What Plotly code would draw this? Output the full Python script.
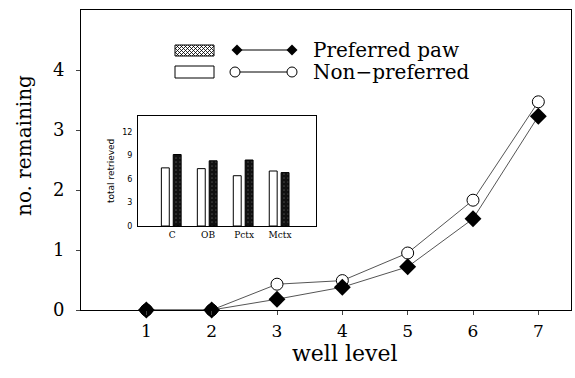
import plotly.graph_objects as go

# main chart data
well_levels = [1, 2, 3, 4, 5, 6, 7]
preferred = [0, 0, 0.18, 0.38, 0.72, 1.52, 3.23]
non_preferred = [0, 0, 0.43, 0.49, 0.95, 1.83, 3.47]

# inset data
groups = ["C", "OB", "Pctx", "Mctx"]
inset_non_pref = [7.4, 7.3, 6.4, 7.0]
inset_pref = [9.1, 8.3, 8.4, 6.8]

y_ticks = [0, 1, 2, 3, 4]
inset_ticks = [0, 3, 6, 9, 12]

SERIF = "DejaVu Serif, Liberation Serif, serif"
W, H = 575, 378
L, R, T, B = 81, 4, 10, 68
PW, PH = W - L - R, H - T - B


def px(x):
    return (x - L) / PW


def py(y):
    return (H - B - y) / PH


fig = go.Figure()

fig.add_trace(go.Scatter(
    x=well_levels, y=non_preferred, mode="lines+markers",
    line=dict(color="#555", width=1),
    marker=dict(symbol="circle", size=12,
                color=["black", "black", "white", "white", "white", "white", "white"],
                line=dict(color="black", width=1)),
    showlegend=False, cliponaxis=False))
fig.add_trace(go.Scatter(
    x=well_levels, y=preferred, mode="lines+markers",
    line=dict(color="#555", width=1),
    marker=dict(symbol="diamond", size=13, color="black",
                line=dict(color="black", width=0)),
    showlegend=False, cliponaxis=False))

fig.add_trace(go.Bar(
    x=groups, y=inset_non_pref, xaxis="x2", yaxis="y2",
    marker=dict(color="white", line=dict(color="black", width=1)),
    width=0.22, offset=-0.3, showlegend=False))
fig.add_trace(go.Bar(
    x=groups, y=inset_pref, xaxis="x2", yaxis="y2",
    marker=dict(color="#111", line=dict(color="black", width=1),
                pattern=dict(shape=".", fgcolor="#777", size=4, solidity=0.15)),
    width=0.22, offset=0.03, showlegend=False))

# legend drawn with shapes (paper coordinates)
shapes = []
line_k = dict(color="black", width=1)
BX0, BX1, BY0, BY1 = 175, 214, 45, 56
shapes.append(dict(type="rect", xref="paper", yref="paper",
                   x0=px(BX0), x1=px(BX1), y0=py(BY1), y1=py(BY0), line=line_k,
                   fillcolor="white"))


def clip_seg(xa, ya, xb, yb):
    pts = []
    for i in range(101):
        t = i / 100
        x = xa + (xb - xa) * t
        y = ya + (yb - ya) * t
        if BX0 <= x <= BX1:
            pts.append((x, y))
    return pts


hh = BY1 - BY0
for k in range(-hh, BX1 - BX0 + hh, 4):
    for xa, xb in ((BX0 + k, BX0 + k + hh), (BX0 + k + hh, BX0 + k)):
        pts = clip_seg(xa, BY0, xb, BY1)
        if len(pts) >= 2:
            shapes.append(dict(type="line", xref="paper", yref="paper",
                               x0=px(pts[0][0]), y0=py(pts[0][1]),
                               x1=px(pts[-1][0]), y1=py(pts[-1][1]),
                               line=dict(color="black", width=0.8)))
shapes.append(dict(type="rect", xref="paper", yref="paper",
                   x0=px(175), x1=px(214), y0=py(78), y1=py(66), line=line_k,
                   fillcolor="white"))
for yy in (50, 72):
    shapes.append(dict(type="line", xref="paper", yref="paper",
                       x0=px(236), x1=px(292), y0=py(yy), y1=py(yy), line=line_k))


def diamond(cx, cy, r=5.5):
    return ("M {} {} L {} {} L {} {} L {} {} Z".format(
        px(cx), py(cy - r), px(cx + r), py(cy), px(cx), py(cy + r), px(cx - r), py(cy)))


for cx in (237, 292):
    shapes.append(dict(type="path", xref="paper", yref="paper",
                       path=diamond(cx, 50), fillcolor="black", line=dict(width=0)))
for cx in (235, 292):
    shapes.append(dict(type="circle", xref="paper", yref="paper",
                       x0=px(cx - 5), x1=px(cx + 5), y0=py(72 + 5), y1=py(72 - 5),
                       fillcolor="white", line=line_k))

fig.update_layout(
    width=W, height=H,
    margin=dict(l=L, r=R, t=T, b=B, autoexpand=False),
    paper_bgcolor="white", plot_bgcolor="white",
    font=dict(family=SERIF, color="black"),
    barmode="overlay",
    xaxis=dict(range=[0, 7.5], tickvals=well_levels, ticks="outside", ticklen=4,
               showline=True, linecolor="black", linewidth=1, mirror=True,
               showgrid=False, zeroline=False,
               tickfont=dict(size=17, family=SERIF, color="black"),
               ticklabelstandoff=2, automargin=False),
    yaxis=dict(range=[0, 5], tickvals=y_ticks, ticks="outside", ticklen=4,
               showline=True, linecolor="black", linewidth=1, mirror=True,
               showgrid=False, zeroline=False,
               tickfont=dict(size=18, family=SERIF, color="black"),
               ticklabelstandoff=8, automargin=False),
    xaxis2=dict(domain=[px(138), px(316)], anchor="y2", range=[-0.95, 4.0],
                showline=True, linecolor="black", linewidth=1, mirror=True,
                ticks="", showgrid=False, zeroline=False, automargin=False,
                tickfont=dict(size=9, family=SERIF, color="black")),
    yaxis2=dict(domain=[py(226), py(116)], anchor="x2", range=[0, 14],
                tickvals=inset_ticks, showline=True, linecolor="black", linewidth=1,
                mirror=True, ticks="", showgrid=False, zeroline=False, automargin=False,
                tickfont=dict(size=8, family="DejaVu Sans, sans-serif", color="black"),
                ticklabelstandoff=3),
    shapes=shapes,
    annotations=[
        dict(text="Preferred paw", x=px(311), y=py(50), xref="paper", yref="paper",
             xanchor="left", yanchor="middle", showarrow=False,
             font=dict(size=20, family=SERIF)),
        dict(text="Non\u2212preferred", x=px(311), y=py(72), xref="paper", yref="paper",
             xanchor="left", yanchor="middle", showarrow=False,
             font=dict(size=20, family=SERIF)),
        dict(text="well level", x=px(344), y=py(353), xref="paper", yref="paper",
             xanchor="center", yanchor="middle", showarrow=False,
             font=dict(size=22, family=SERIF)),
        dict(text="no. remaining", x=px(24), y=py(146), xref="paper", yref="paper",
             xanchor="center", yanchor="middle", showarrow=False, textangle=-90,
             font=dict(size=20, family=SERIF)),
        dict(text="total retrieved", x=px(111), y=py(171), xref="paper", yref="paper",
             xanchor="center", yanchor="middle", showarrow=False, textangle=-90,
             font=dict(size=9, family="DejaVu Sans, sans-serif")),
    ],
)

fig.write_html(
    "out.html",
    config={"displayModeBar": False},
    post_script="document.body.style.margin='0';document.body.style.overflow='hidden';",
)
